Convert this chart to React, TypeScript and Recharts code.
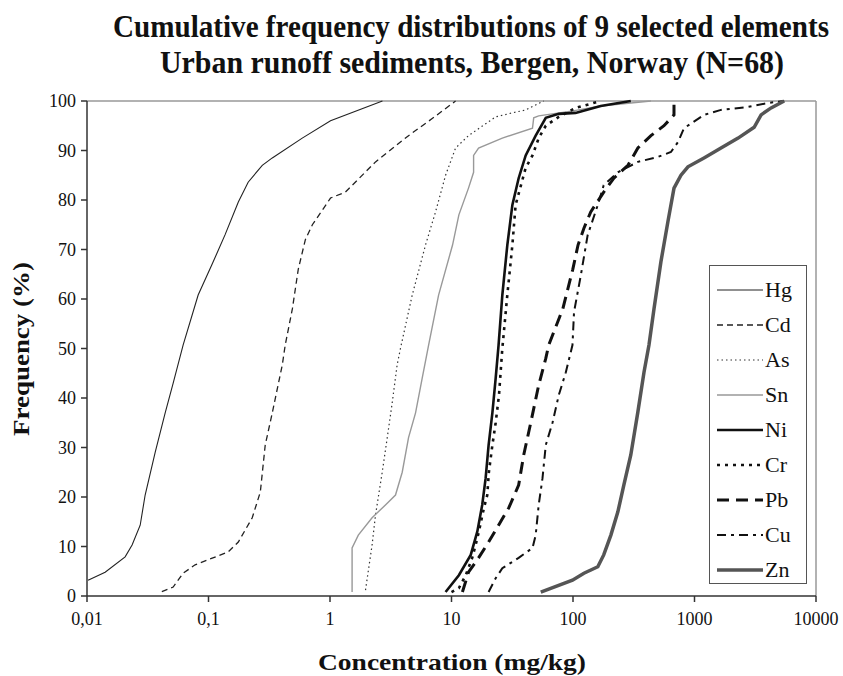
import { LineChart, Line, XAxis, YAxis, ReferenceLine, Legend } from 'recharts';

// [concentration mg/kg, cumulative %]
const hg = [[0.0102, 3.2], [0.0141, 4.8], [0.0206, 7.9], [0.0235, 10.3], [0.0274, 14.3], [0.0301, 20.4], [0.0364, 29], [0.044, 37], [0.0512, 43], [0.0618, 50.7], [0.0822, 60.8], [0.107, 67], [0.137, 73], [0.176, 79.6], [0.212, 83.6], [0.277, 87], [0.335, 88.5], [0.591, 92.5], [1.01, 96], [2.7, 100]];
const cd = [[0.0413, 0.9], [0.0512, 1.8], [0.0618, 4.6], [0.0776, 6.3], [0.145, 8.9], [0.176, 10.9], [0.229, 15.8], [0.267, 21], [0.293, 30.5], [0.335, 37], [0.405, 46.7], [0.428, 50.7], [0.49, 58], [0.548, 66], [0.627, 72], [0.716, 75], [1.01, 80.4], [1.34, 81.6], [2.37, 87.7], [4.43, 93], [6.98, 96.5], [10.8, 100]];
const as = [[1.96, 1.2], [2.22, 10.3], [2.37, 16.4], [2.69, 25], [2.96, 32], [3.25, 39], [3.57, 46.7], [3.8, 50], [4.75, 60.8], [6.11, 70.9], [7.39, 77.6], [8.94, 85], [10.8, 90.5], [13.8, 93], [23.1, 96.8], [31.7, 97.6], [40.8, 98.2], [57.4, 100]];
const sn = [[1.52, 0.8], [1.52, 9.7], [1.71, 12.3], [2.22, 15.8], [2.86, 18.4], [3.46, 20.4], [3.93, 25], [4.43, 32], [5.06, 37], [5.74, 44], [6.48, 50.7], [7.83, 60.8], [10.2, 70.9], [11.5, 77], [13.8, 82.4], [15.2, 85.6], [15.2, 89], [16.7, 90.5], [26.2, 92.5], [46.4, 94.5], [47.5, 96.6], [52.2, 97], [100, 98], [169, 99], [438, 100]];
const ni = [[8.94, 0.8], [11.5, 4.2], [14.4, 8.3], [16.3, 13], [17.9, 18.4], [19.1, 23.8], [20.2, 30.5], [21.7, 37], [23.1, 44], [24.4, 50.7], [26.2, 60.8], [28.8, 70.9], [31.7, 79], [35.7, 84.4], [40.8, 89], [49.3, 93], [59.7, 96.6], [76.4, 97.4], [105, 97.6], [169, 99], [299, 100]];
const cr = [[10, 0.8], [11.5, 1.6], [13.1, 4.2], [14.8, 7.7], [15.8, 10.3], [16.8, 13], [18.5, 17.8], [19.7, 20.4], [20.3, 25], [21.7, 30.5], [23.1, 35], [24.6, 40.6], [26.2, 50], [28.8, 60.8], [31.7, 70.9], [33.7, 79], [40.8, 86.5], [46.4, 89], [52.2, 92.5], [59.7, 95], [76.4, 96.8], [105, 98.6], [169, 100]];
const pb = [[12.3, 0.8], [13.8, 4.8], [16.7, 7.7], [20.2, 10.9], [24.4, 14.3], [29.6, 17.8], [35.7, 22.4], [39.3, 28.5], [44.9, 35], [52.2, 42.6], [59.7, 48], [63.1, 50.7], [82.4, 58], [99.6, 66], [110, 70.9], [123, 74.3], [140, 77.6], [179, 81.6], [217, 84.4], [283, 87], [342, 90.5], [438, 93], [561, 95], [678, 97.2], [678, 100]];
const cu = [[20.2, 0.8], [23.1, 3.6], [26.2, 5.6], [35.7, 7.7], [46.4, 9.7], [49.3, 12.3], [52.2, 18.4], [56.1, 23.8], [59.7, 30.5], [67.8, 35], [76.4, 40.6], [87.3, 45.2], [99, 50.7], [102, 57.4], [116, 64.8], [132, 72.9], [160, 79], [179, 83], [234, 85.6], [342, 87.7], [500, 88.7], [640, 89.7], [731, 91.7], [819, 94.5], [1197, 97.2], [1652, 98.2], [2760, 98.8], [4036, 99.6], [5470, 100]];
const zn = [[54.3, 0.8], [99, 3.2], [123, 4.6], [160, 5.9], [179, 8.3], [205, 12.3], [234, 17], [262, 22.4], [299, 28.5], [342, 37.2], [384, 45.2], [422, 50.7], [464, 58], [529, 67.5], [604, 75.6], [678, 82.4], [774, 85], [883, 86.7], [1197, 88.5], [1652, 90.5], [2285, 92.5], [3097, 94.7], [3532, 97.2], [4271, 98.6], [5470, 100]];

const xTicks = [0.01, 0.1, 1, 10, 100, 1000, 10000];
const yTicks = [0, 10, 20, 30, 40, 50, 60, 70, 80, 90, 100];

const series = [
  { name: 'Hg', points: hg, stroke: '#222', width: 1.1, dash: undefined },
  { name: 'Cd', points: cd, stroke: '#222', width: 1.3, dash: '6 4' },
  { name: 'As', points: as, stroke: '#333', width: 1.2, dash: '1.5 3' },
  { name: 'Sn', points: sn, stroke: '#999', width: 1.4, dash: undefined },
  { name: 'Ni', points: ni, stroke: '#111', width: 2.6, dash: undefined },
  { name: 'Cr', points: cr, stroke: '#111', width: 2.6, dash: '3 5' },
  { name: 'Pb', points: pb, stroke: '#111', width: 3, dash: '12 7' },
  { name: 'Cu', points: cu, stroke: '#111', width: 2, dash: '9 5 3 5' },
  { name: 'Zn', points: zn, stroke: '#555', width: 3.5, dash: undefined },
].map(s => ({ ...s, data: s.points.map(([x, y]) => ({ x, y })) }));

const serif = 'Liberation Serif';

function LegendBox() {
  return (
    <div style={{ width: 98, height: 319, border: '1.5px solid #555', background: '#fff', boxSizing: 'border-box' }}>
      <svg width={96} height={316}>
        {series.map((s, i) => (
          <g key={s.name}>
            <line x1={7} x2={53} y1={24 + i * 35} y2={24 + i * 35} stroke={s.stroke} strokeWidth={s.width} strokeDasharray={s.dash} />
            <text x={55} y={31 + i * 35} fontFamily={serif} fontSize={22} fill="#111">{s.name}</text>
          </g>
        ))}
      </svg>
    </div>
  );
}

export default function App() {
  return (
    <div style={{ position: 'absolute', left: 0, top: 0, width: 843, height: 676, background: '#fff', fontFamily: serif }}>
      <svg width={843} height={100} style={{ position: 'absolute', left: 0, top: 0 }}>
        <g transform="translate(471 37) scale(1 1.14)">
          <text x={0} y={0} textAnchor="middle" fontFamily={serif} fontWeight="bold" fontSize={27} textLength={716} lengthAdjust="spacingAndGlyphs" fill="#111">
            Cumulative frequency distributions of 9 selected elements
          </text>
        </g>
        <g transform="translate(472 73) scale(1 1.14)">
          <text x={0} y={0} textAnchor="middle" fontFamily={serif} fontWeight="bold" fontSize={27} textLength={624} lengthAdjust="spacingAndGlyphs" fill="#111">
            Urban runoff sediments, Bergen, Norway (N=68)
          </text>
        </g>
      </svg>
      <LineChart width={843} height={676} margin={{ top: 101, right: 27, bottom: 0, left: 0 }} style={{ position: 'absolute', left: 0, top: 0 }}>
        <XAxis
          dataKey="x"
          type="number"
          scale="log"
          domain={[0.01, 10000]}
          ticks={xTicks}
          allowDataOverflow
          height={80}
          tickSize={6}
          tickMargin={10}
          stroke="#333"
          strokeWidth={1.5}
          tick={{ fontFamily: serif, fontSize: 18, fill: '#111' }}
          tickFormatter={(v: number) => String(v).replace('.', ',')}
        />
        <YAxis
          dataKey="y"
          type="number"
          domain={[0, 100]}
          ticks={yTicks}
          width={87}
          tickSize={6}
          tickMargin={5}
          stroke="#333"
          strokeWidth={1.5}
          tick={{ fontFamily: serif, fontSize: 18, fill: '#111' }}
        />
        <ReferenceLine y={100} stroke="#999" strokeWidth={1.5} />
        <ReferenceLine x={10000} stroke="#999" strokeWidth={1.5} />
        {series.map(s => (
          <Line
            key={s.name}
            data={s.data}
            dataKey="y"
            name={s.name}
            type="linear"
            stroke={s.stroke}
            strokeWidth={s.width}
            strokeDasharray={s.dash}
            dot={false}
            activeDot={false}
            isAnimationActive={false}
          />
        ))}
        <Legend
          layout="vertical"
          align="center"
          verticalAlign="middle"
          content={() => <LegendBox />}
          wrapperStyle={{ position: 'absolute', left: 709, top: 265, width: 98, height: 319 }}
        />
      </LineChart>
      <svg width={843} height={676} style={{ position: 'absolute', left: 0, top: 0, pointerEvents: 'none' }}>
        <text x={452} y={670} textAnchor="middle" fontFamily={serif} fontWeight="bold" fontSize={24} textLength={268} lengthAdjust="spacingAndGlyphs" fill="#111">
          Concentration (mg/kg)
        </text>
        <text transform="translate(29 349) rotate(-90)" textAnchor="middle" fontFamily={serif} fontWeight="bold" fontSize={24} textLength={174} lengthAdjust="spacingAndGlyphs" fill="#111">
          Frequency (%)
        </text>
      </svg>
    </div>
  );
}
